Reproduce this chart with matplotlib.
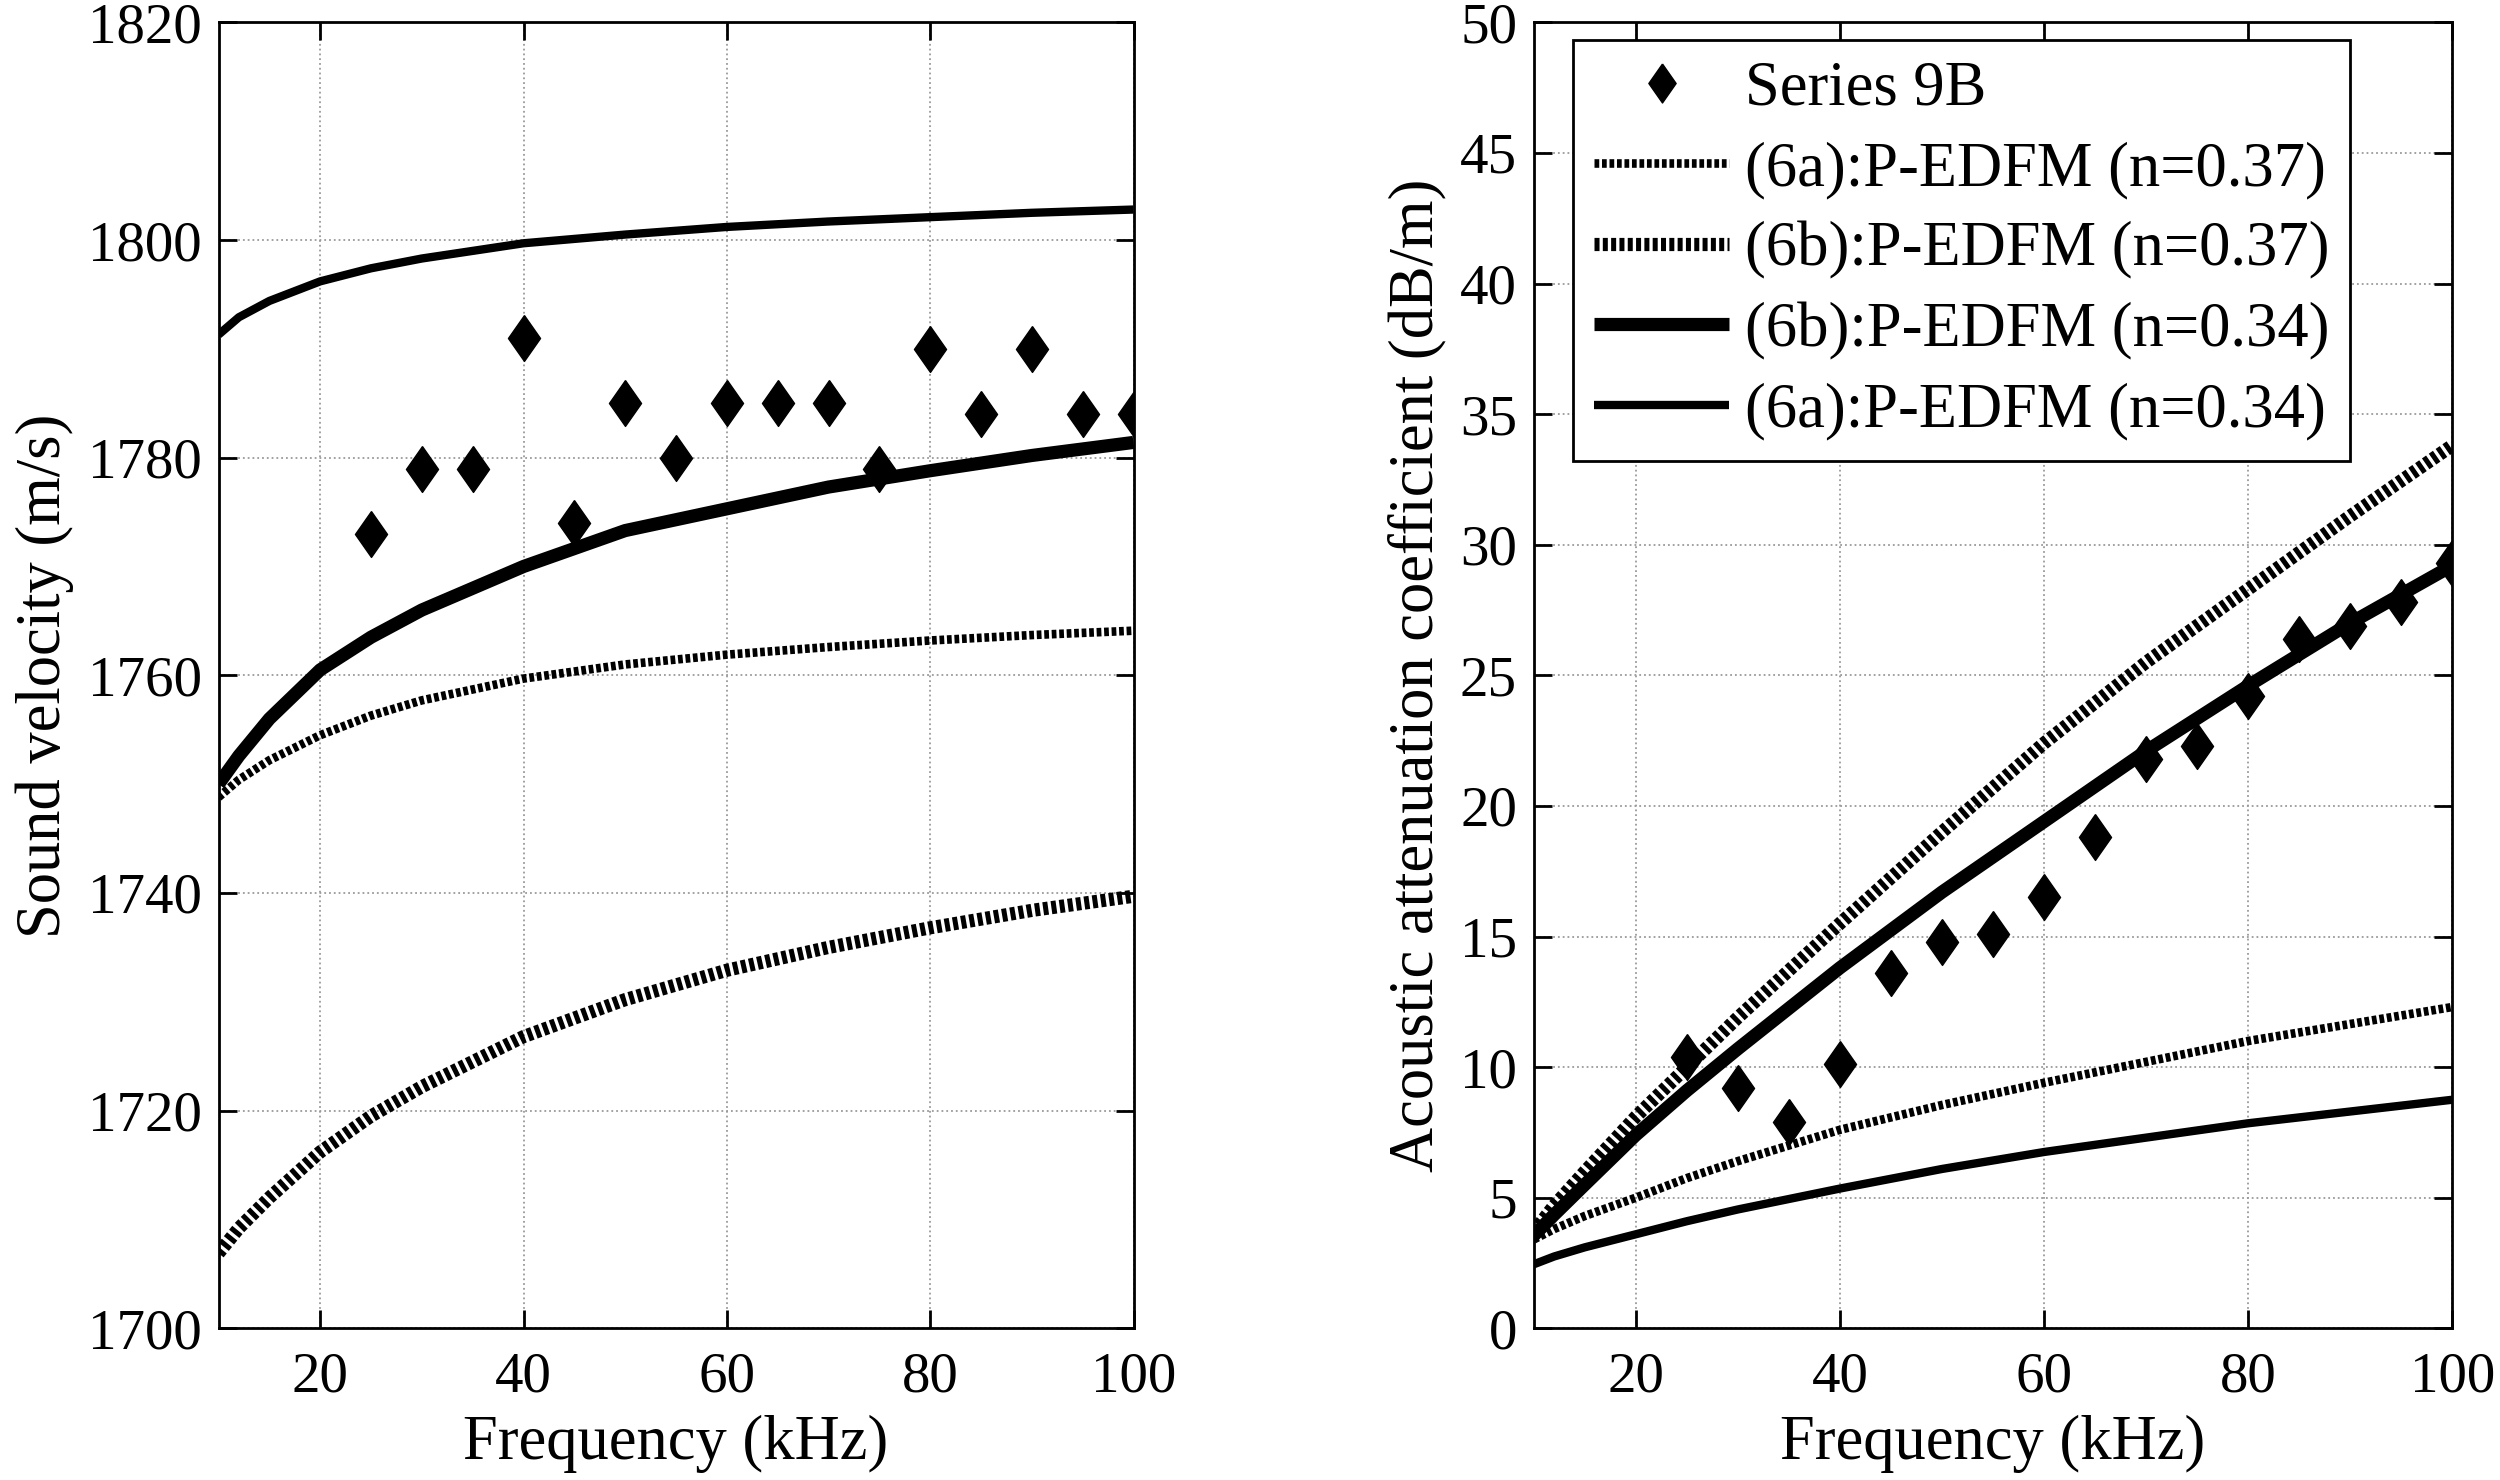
import matplotlib
matplotlib.use("Agg")
import matplotlib.pyplot as plt

plt.rcParams['font.family'] = ['Liberation Serif', 'DejaVu Serif']
plt.rcParams['mathtext.fontset'] = 'stix'

# ---- data ----
freq_meas = [25, 30, 35, 40, 45, 50, 55, 60, 65, 70, 75, 80, 85, 90, 95, 100]
vel_meas = [1773, 1779, 1779, 1791, 1774, 1785, 1780, 1785, 1785, 1785, 1779,
            1790, 1784, 1790, 1784, 1784]
att_meas = [10.4, 9.2, 7.9, 10.1, 13.6, 14.8, 15.1, 16.5, 18.8, 21.8, 22.3,
            24.2, 26.4, 26.9, 27.8, 29.3]

freq_model = [10, 12, 15, 20, 25, 30, 40, 50, 60, 70, 80, 90, 100]

vel_6a_037 = [1748.8, 1750.4, 1752.2, 1754.5, 1756.3, 1757.7, 1759.7, 1761.0,
              1761.9, 1762.6, 1763.2, 1763.7, 1764.1]
vel_6b_037 = [1706.9, 1709.2, 1712.0, 1716.2, 1719.5, 1722.2, 1726.8, 1730.2,
              1732.9, 1735.0, 1736.8, 1738.4, 1739.7]
vel_6b_034 = [1750.0, 1752.6, 1756.0, 1760.5, 1763.5, 1766.0, 1770.0, 1773.3,
              1775.3, 1777.3, 1778.8, 1780.2, 1781.4]
vel_6a_034 = [1791.3, 1792.9, 1794.4, 1796.2, 1797.4, 1798.3, 1799.7, 1800.5,
              1801.2, 1801.7, 1802.1, 1802.5, 1802.8]

att_6a_037 = [3.4, 3.8, 4.3, 5.0, 5.75, 6.4, 7.6, 8.55, 9.4, 10.2, 11.0, 11.65, 12.3]
att_6b_037 = [3.7, 4.7, 6.0, 8.1, 10.0, 11.9, 15.5, 19.0, 22.4, 25.5, 28.3, 31.1, 33.8]
att_6b_034 = [3.55, 4.35, 5.5, 7.4, 9.1, 10.7, 13.8, 16.7, 19.4, 22.1, 24.6, 27.0, 29.2]
att_6a_034 = [2.45, 2.75, 3.1, 3.6, 4.1, 4.55, 5.35, 6.1, 6.75, 7.3, 7.85, 8.3, 8.75]

labels = ['Series 9B', '(6a):P-EDFM (n=0.37)', '(6b):P-EDFM (n=0.37)',
          '(6b):P-EDFM (n=0.34)', '(6a):P-EDFM (n=0.34)']

x_ticks = [20, 40, 60, 80, 100]
vel_ticks = [1700, 1720, 1740, 1760, 1780, 1800, 1820]
att_ticks = list(range(0, 55, 5))

# ---- styles ----
FS_TICK = 41
FS_LAB = 45
diamond = [(0, 1), (0.7, 0), (0, -1), (-0.7, 0), (0, 1)]
meas_kw = dict(linestyle='none', marker=diamond, markersize=33, color='black')
thin_dot = dict(color='black', lw=6.2, dashes=(0.55, 0.32), dash_capstyle='butt')
thick_dot = dict(color='black', lw=9.5, dashes=(0.38, 0.25), dash_capstyle='butt')
thick_solid = dict(color='black', lw=9.5, solid_capstyle='butt')
thin_solid = dict(color='black', lw=6.0, solid_capstyle='butt')

fig = plt.figure(figsize=(25, 14.8), dpi=100)
ax1 = fig.add_axes([0.0874, 0.1025, 0.366, 0.8824])
ax2 = fig.add_axes([0.6135, 0.1025, 0.3674, 0.8824])


def style(ax):
    ax.set_xlim(10, 100)
    ax.set_xticks(x_ticks)
    ax.grid(True, color='#9a9a9a', linestyle=':', linewidth=1.3)
    ax.set_axisbelow(True)
    ax.tick_params(direction='in', length=13, width=2, top=True, right=True,
                   labelsize=FS_TICK)
    ax.tick_params(axis='x', pad=17)
    ax.tick_params(axis='y', pad=12)
    for s in ax.spines.values():
        s.set_linewidth(2)
    ax.set_xlabel('Frequency (kHz)', fontsize=FS_LAB, labelpad=8)


# left panel
ax1.plot(freq_meas, vel_meas, **meas_kw)
ax1.plot(freq_model, vel_6a_037, **thin_dot)
ax1.plot(freq_model, vel_6b_037, **thick_dot)
ax1.plot(freq_model, vel_6b_034, **thick_solid)
ax1.plot(freq_model, vel_6a_034, **thin_solid)
style(ax1)
ax1.set_ylim(1700, 1820)
ax1.set_yticks(vel_ticks)
ax1.set_ylabel('Sound velocity (m/s)', fontsize=FS_LAB, labelpad=10)

# right panel
h0, = ax2.plot(freq_meas, att_meas, label=labels[0], **meas_kw)
h1, = ax2.plot(freq_model, att_6a_037, label=labels[1], **thin_dot)
h2, = ax2.plot(freq_model, att_6b_037, label=labels[2], **thick_dot)
h3, = ax2.plot(freq_model, att_6b_034, label=labels[3], **thick_solid)
h4, = ax2.plot(freq_model, att_6a_034, label=labels[4], **thin_solid)
style(ax2)
ax2.set_ylim(0, 50)
ax2.set_yticks(att_ticks)
ax2.set_ylabel('Acoustic attenuation coefficient (dB/m)', fontsize=FS_LAB, labelpad=10)

leg = ax2.legend(handles=[h0, h1, h2, h3, h4], loc='upper left',
                 bbox_to_anchor=(0.043, 0.9866), fontsize=FS_LAB, frameon=True,
                 fancybox=False, edgecolor='black', framealpha=1,
                 handlelength=2.17, handletextpad=0.25, labelspacing=0.36,
                 borderpad=0.33, borderaxespad=0, markerscale=0.85)
leg.get_frame().set_linewidth(2)

fig.savefig('out.png', dpi=100, facecolor='white')
